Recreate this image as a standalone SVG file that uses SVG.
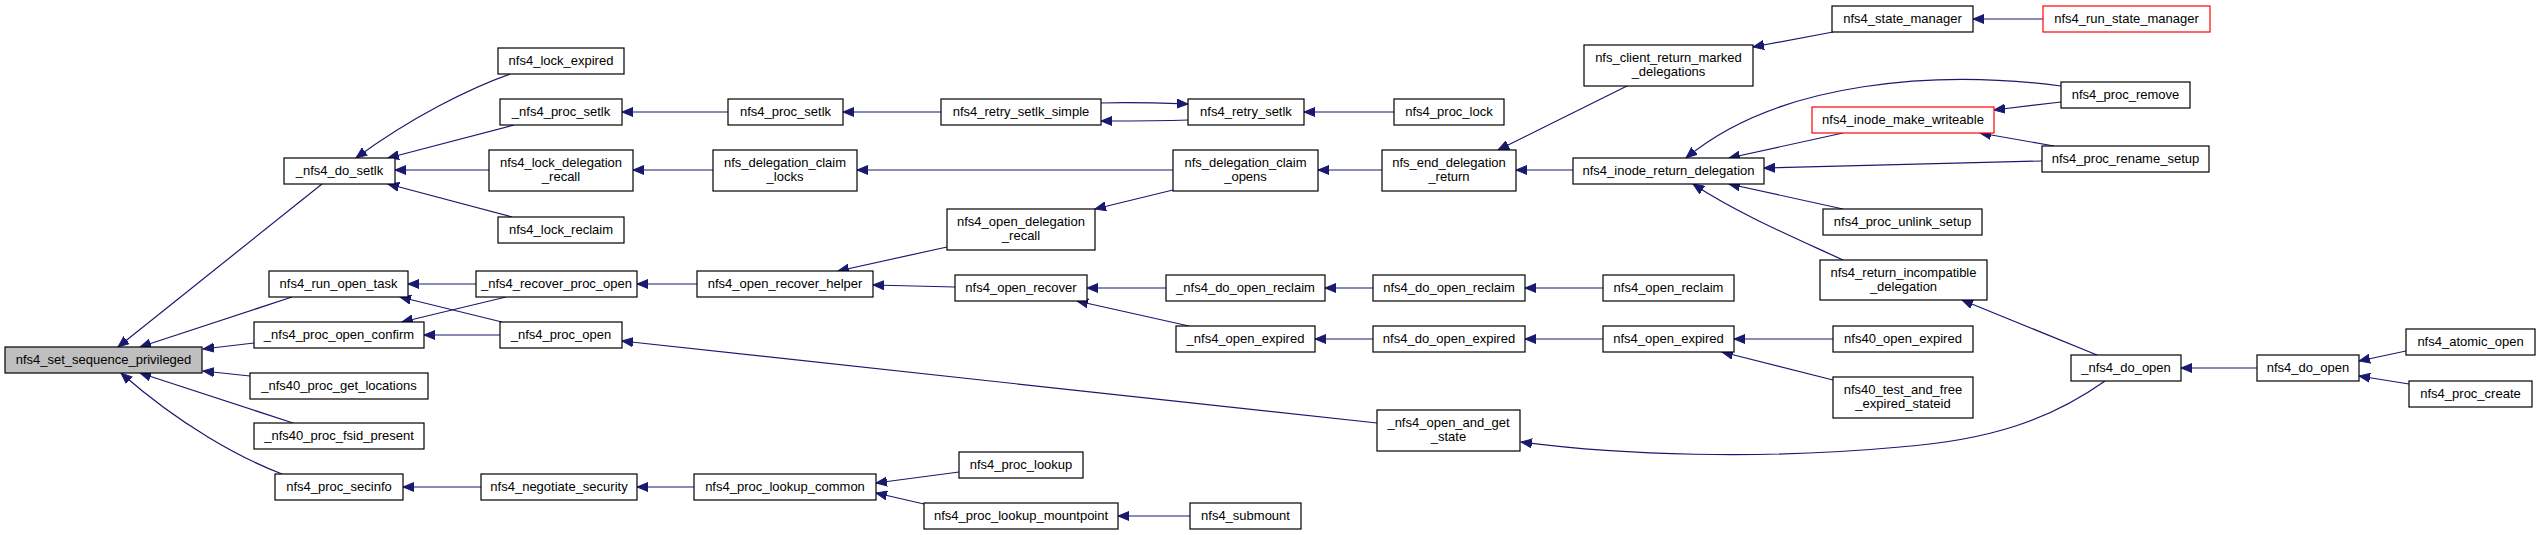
<svg xmlns="http://www.w3.org/2000/svg" width="2543" height="535" viewBox="0 0 2543 535">
<style>
.n rect{fill:#fff;stroke:#000;stroke-width:1.2}
.n.red rect{stroke:#ff0000}
.n.root rect{fill:#bfbfbf}
.n text{font-family:"Liberation Sans",Arial,sans-serif;font-size:13px;text-anchor:middle;fill:#000}
#edges path{fill:none;stroke:#191970;stroke-width:1.2;marker-end:url(#a)}
</style>
<defs>
<marker id="a" markerWidth="12" markerHeight="10" refX="11" refY="5" orient="auto" markerUnits="userSpaceOnUse"><path d="M0,0.5 L11,5 L0,9.5 z" fill="#191970" stroke="#191970" stroke-width="1"/></marker>
</defs>
<rect width="2543" height="535" fill="#fff"/>
<g id="edges">
<path d="M322,184 L118,347"/>
<path d="M292,297 L140,347"/>
<path d="M254,343 L203,349"/>
<path d="M250,376 L203,371"/>
<path d="M293,423 L140,373"/>
<path d="M282,474 C240,458 180,425 121,373"/>
<path d="M510,74 C470,88 410,118 356,158"/>
<path d="M514,125 L388,158"/>
<path d="M489,170 L395,170"/>
<path d="M512,217 L388,184"/>
<path d="M728,112 L622,112"/>
<path d="M941,112 L843,112"/>
<path d="M1101,103 C1130,102 1160,103 1188,104"/>
<path d="M1188,120 C1160,121 1130,121 1101,121"/>
<path d="M1394,112 L1304,112"/>
<path d="M713,170 L633,170"/>
<path d="M1173,170 L857,170"/>
<path d="M1382,170 L1318,170"/>
<path d="M1629,85 L1498,150"/>
<path d="M1573,170 L1516,170"/>
<path d="M1833,32 L1753,47"/>
<path d="M2043,19 L1973,19"/>
<path d="M2061,86 C1940,70 1780,80 1686,158"/>
<path d="M1843,133 L1729,158"/>
<path d="M2061,102 L1994,110"/>
<path d="M2054,146 L1980,133"/>
<path d="M2042,161 L1764,168"/>
<path d="M1843,209 L1729,184"/>
<path d="M1843,260 C1800,240 1740,215 1693,184"/>
<path d="M697,284 L637,284"/>
<path d="M476,284 L408,284"/>
<path d="M506,297 L402,322"/>
<path d="M502,322 L400,297"/>
<path d="M500,335 L424,335"/>
<path d="M1377,423 L622,341"/>
<path d="M947,247 L838,271"/>
<path d="M1173,190 L1095,209"/>
<path d="M955,287 L873,285"/>
<path d="M1166,288 L1087,288"/>
<path d="M1189,326 L1077,301"/>
<path d="M1373,288 L1325,288"/>
<path d="M1603,288 L1525,288"/>
<path d="M1373,339 L1315,339"/>
<path d="M1603,339 L1525,339"/>
<path d="M1833,339 L1734,339"/>
<path d="M1833,380 L1722,352"/>
<path d="M2105,381 C2050,420 1990,440 1900,447 C1760,460 1620,455 1521,442"/>
<path d="M2097,355 L1962,300"/>
<path d="M2257,368 L2181,368"/>
<path d="M2406,351 L2359,361"/>
<path d="M2409,384 L2359,376"/>
<path d="M481,487 L403,487"/>
<path d="M694,487 L637,487"/>
<path d="M959,472 L876,483"/>
<path d="M924,504 L876,493"/>
<path d="M1190,516 L1118,516"/>
</g>
<g id="n_root" class="n root"><rect x="5" y="347" width="197" height="26"/><text x="103.5" y="364">nfs4_set_sequence_privileged</text></g>
<g id="n_do_setlk" class="n"><rect x="284" y="158" width="111" height="26"/><text x="339.5" y="175">_nfs4_do_setlk</text></g>
<g id="n_lock_expired" class="n"><rect x="498" y="48" width="126" height="26"/><text x="561" y="65">nfs4_lock_expired</text></g>
<g id="n_proc_setlk_u" class="n"><rect x="500" y="99" width="122" height="26"/><text x="561" y="116">_nfs4_proc_setlk</text></g>
<g id="n_lock_deleg_recall" class="n"><rect x="489" y="150" width="144" height="41"/><text x="561" y="167">nfs4_lock_delegation</text><text x="561" y="181">_recall</text></g>
<g id="n_lock_reclaim" class="n"><rect x="498" y="217" width="126" height="26"/><text x="561" y="234">nfs4_lock_reclaim</text></g>
<g id="n_run_open_task" class="n"><rect x="269" y="271" width="139" height="26"/><text x="338.5" y="288">nfs4_run_open_task</text></g>
<g id="n_recover_proc_open" class="n"><rect x="476" y="271" width="161" height="26"/><text x="556.5" y="288">_nfs4_recover_proc_open</text></g>
<g id="n_proc_open_confirm" class="n"><rect x="254" y="322" width="170" height="26"/><text x="339" y="339">_nfs4_proc_open_confirm</text></g>
<g id="n_proc_open_u" class="n"><rect x="500" y="322" width="122" height="26"/><text x="561" y="339">_nfs4_proc_open</text></g>
<g id="n_get_locations" class="n"><rect x="250" y="373" width="178" height="26"/><text x="339" y="390">_nfs40_proc_get_locations</text></g>
<g id="n_fsid_present" class="n"><rect x="254" y="423" width="170" height="26"/><text x="339" y="440">_nfs40_proc_fsid_present</text></g>
<g id="n_proc_secinfo" class="n"><rect x="275" y="474" width="128" height="26"/><text x="339" y="491">nfs4_proc_secinfo</text></g>
<g id="n_negotiate_security" class="n"><rect x="481" y="474" width="156" height="26"/><text x="559" y="491">nfs4_negotiate_security</text></g>
<g id="n_proc_setlk" class="n"><rect x="728" y="99" width="115" height="26"/><text x="785.5" y="116">nfs4_proc_setlk</text></g>
<g id="n_retry_setlk_simple" class="n"><rect x="941" y="99" width="160" height="26"/><text x="1021" y="116">nfs4_retry_setlk_simple</text></g>
<g id="n_retry_setlk" class="n"><rect x="1188" y="99" width="116" height="26"/><text x="1246" y="116">nfs4_retry_setlk</text></g>
<g id="n_claim_locks" class="n"><rect x="713" y="150" width="144" height="41"/><text x="785" y="167">nfs_delegation_claim</text><text x="785" y="181">_locks</text></g>
<g id="n_claim_opens" class="n"><rect x="1173" y="150" width="145" height="41"/><text x="1245.5" y="167">nfs_delegation_claim</text><text x="1245.5" y="181">_opens</text></g>
<g id="n_open_deleg_recall" class="n"><rect x="947" y="209" width="148" height="41"/><text x="1021" y="226">nfs4_open_delegation</text><text x="1021" y="240">_recall</text></g>
<g id="n_recover_helper" class="n"><rect x="697" y="271" width="176" height="26"/><text x="785" y="288">nfs4_open_recover_helper</text></g>
<g id="n_open_recover" class="n"><rect x="955" y="275" width="132" height="26"/><text x="1021" y="292">nfs4_open_recover</text></g>
<g id="n_do_open_reclaim_u" class="n"><rect x="1166" y="275" width="159" height="26"/><text x="1245.5" y="292">_nfs4_do_open_reclaim</text></g>
<g id="n_open_expired_u" class="n"><rect x="1176" y="326" width="139" height="26"/><text x="1245.5" y="343">_nfs4_open_expired</text></g>
<g id="n_proc_lookup" class="n"><rect x="959" y="452" width="124" height="26"/><text x="1021" y="469">nfs4_proc_lookup</text></g>
<g id="n_lookup_common" class="n"><rect x="694" y="474" width="182" height="26"/><text x="785" y="491">nfs4_proc_lookup_common</text></g>
<g id="n_lookup_mountpoint" class="n"><rect x="924" y="503" width="194" height="26"/><text x="1021" y="520">nfs4_proc_lookup_mountpoint</text></g>
<g id="n_submount" class="n"><rect x="1190" y="503" width="111" height="26"/><text x="1245.5" y="520">nfs4_submount</text></g>
<g id="n_proc_lock" class="n"><rect x="1394" y="99" width="110" height="26"/><text x="1449" y="116">nfs4_proc_lock</text></g>
<g id="n_client_return_marked" class="n"><rect x="1584" y="45" width="169" height="41"/><text x="1668.5" y="62">nfs_client_return_marked</text><text x="1668.5" y="76">_delegations</text></g>
<g id="n_state_manager" class="n"><rect x="1832" y="6" width="141" height="26"/><text x="1902.5" y="23">nfs4_state_manager</text></g>
<g id="n_run_state_manager" class="n red"><rect x="2043" y="6" width="167" height="26"/><text x="2126.5" y="23">nfs4_run_state_manager</text></g>
<g id="n_end_deleg_return" class="n"><rect x="1382" y="150" width="134" height="41"/><text x="1449" y="167">nfs_end_delegation</text><text x="1449" y="181">_return</text></g>
<g id="n_inode_return_deleg" class="n"><rect x="1573" y="158" width="191" height="26"/><text x="1668.5" y="175">nfs4_inode_return_delegation</text></g>
<g id="n_make_writeable" class="n red"><rect x="1812" y="107" width="182" height="26"/><text x="1903" y="124">nfs4_inode_make_writeable</text></g>
<g id="n_unlink_setup" class="n"><rect x="1823" y="209" width="159" height="26"/><text x="1902.5" y="226">nfs4_proc_unlink_setup</text></g>
<g id="n_return_incompat" class="n"><rect x="1820" y="260" width="167" height="40"/><text x="1903.5" y="277">nfs4_return_incompatible</text><text x="1903.5" y="291">_delegation</text></g>
<g id="n_proc_remove" class="n"><rect x="2061" y="82" width="129" height="26"/><text x="2125.5" y="99">nfs4_proc_remove</text></g>
<g id="n_rename_setup" class="n"><rect x="2042" y="146" width="167" height="26"/><text x="2125.5" y="163">nfs4_proc_rename_setup</text></g>
<g id="n_do_open_reclaim" class="n"><rect x="1373" y="275" width="152" height="26"/><text x="1449" y="292">nfs4_do_open_reclaim</text></g>
<g id="n_open_reclaim" class="n"><rect x="1603" y="275" width="131" height="26"/><text x="1668.5" y="292">nfs4_open_reclaim</text></g>
<g id="n_do_open_expired" class="n"><rect x="1373" y="326" width="152" height="26"/><text x="1449" y="343">nfs4_do_open_expired</text></g>
<g id="n_open_expired" class="n"><rect x="1603" y="326" width="131" height="26"/><text x="1668.5" y="343">nfs4_open_expired</text></g>
<g id="n_nfs40_open_expired" class="n"><rect x="1833" y="326" width="140" height="26"/><text x="1903" y="343">nfs40_open_expired</text></g>
<g id="n_test_and_free" class="n"><rect x="1833" y="377" width="140" height="41"/><text x="1903" y="394">nfs40_test_and_free</text><text x="1903" y="408">_expired_stateid</text></g>
<g id="n_open_and_get_state" class="n"><rect x="1377" y="410" width="143" height="41"/><text x="1448.5" y="427">_nfs4_open_and_get</text><text x="1448.5" y="441">_state</text></g>
<g id="n_do_open_u" class="n"><rect x="2071" y="355" width="110" height="26"/><text x="2126" y="372">_nfs4_do_open</text></g>
<g id="n_do_open" class="n"><rect x="2257" y="355" width="102" height="26"/><text x="2308" y="372">nfs4_do_open</text></g>
<g id="n_atomic_open" class="n"><rect x="2406" y="329" width="129" height="26"/><text x="2470.5" y="346">nfs4_atomic_open</text></g>
<g id="n_proc_create" class="n"><rect x="2409" y="381" width="123" height="26"/><text x="2470.5" y="398">nfs4_proc_create</text></g>
</svg>
